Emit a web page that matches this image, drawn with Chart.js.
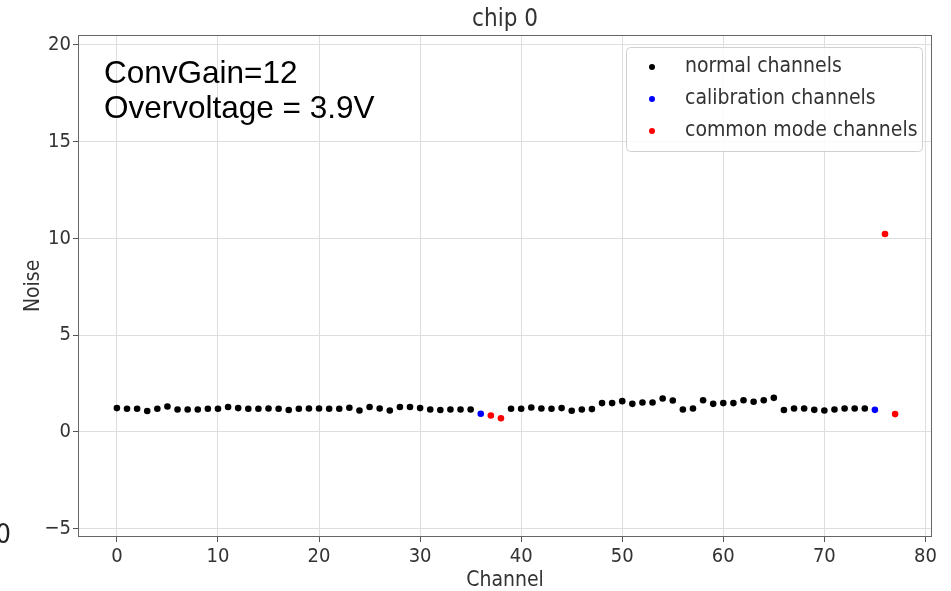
<!DOCTYPE html>
<html lang="en">
<head>
<meta charset="UTF-8">
<title>chip 0 - Noise per channel</title>
<script src="https://cdn.jsdelivr.net/npm/chart.js"></script>
<style>
  html, body { margin: 0; padding: 0; background: #fff; }
  #wrap { width: 951px; height: 591px; position: relative; }
</style>
</head>
<body>
<div id="wrap"><canvas id="noiseChart"></canvas></div>
<script>
  // noise per channel, channel = index (0..77)
  const noise = [
    1.23, 1.20, 1.20, 1.08, 1.20, 1.31, 1.16, 1.16, 1.16, 1.20,
    1.20, 1.29, 1.23, 1.20, 1.20, 1.21, 1.20, 1.13, 1.20, 1.21,
    1.21, 1.20, 1.20, 1.25, 1.11, 1.29, 1.21, 1.11, 1.29, 1.29,
    1.23, 1.16, 1.13, 1.16, 1.16, 1.16, 0.94, 0.85, 0.71, 1.20,
    1.20, 1.26, 1.21, 1.20, 1.23, 1.09, 1.16, 1.18, 1.49, 1.49,
    1.59, 1.45, 1.52, 1.52, 1.73, 1.62, 1.16, 1.21, 1.64, 1.45,
    1.49, 1.49, 1.64, 1.56, 1.64, 1.76, 1.13, 1.21, 1.21, 1.14,
    1.11, 1.16, 1.21, 1.21, 1.21, 1.14, 10.23, 0.92
  ];
  const calibChannels = [36, 75];
  const cmChannels = [37, 38, 76, 77];

  const seriesLabels = ['normal channels', 'calibration channels', 'common mode channels'];
  const seriesColors = ['#000000', '#0000ff', '#ff0000'];

  const annotationLines = ['ConvGain=12', 'Overvoltage = 3.9V'];

  const xTicks = [0, 10, 20, 30, 40, 50, 60, 70, 80];
  const yTicks = [-5, 0, 5, 10, 15, 20];

  // split channels into the three groups
  const normalPts = [], calibPts = [], cmPts = [];
  noise.forEach((v, ch) => {
    const p = { x: ch, y: v };
    if (calibChannels.includes(ch)) calibPts.push(p);
    else if (cmChannels.includes(ch)) cmPts.push(p);
    else normalPts.push(p);
  });

  const FONT = "'DejaVu Sans Condensed', 'DejaVu Sans', sans-serif";
  Chart.defaults.font.family = FONT;
  Chart.defaults.color = '#333';

  // matplotlib style minus sign
  const fmt = v => (v < 0 ? '\u2212' + Math.abs(v) : String(v));

  // frame, legend box, text box and the clipped "0" at the left edge
  const extras = {
    id: 'extras',
    afterDraw(chart) {
      const { ctx, chartArea: a } = chart;
      ctx.save();

      // axes frame
      ctx.strokeStyle = '#666';
      ctx.lineWidth = 1;
      ctx.strokeRect(Math.round(a.left) + 0.5, Math.round(a.top) + 0.5,
        Math.round(a.right - a.left) - 1, Math.round(a.bottom - a.top) - 1);

      // legend
      const lx = 626, ly = 47, lw = 296, lh = 104;
      ctx.beginPath();
      ctx.roundRect(lx + 0.5, ly + 0.5, lw, lh, 4);
      ctx.fillStyle = 'rgba(255,255,255,0.85)';
      ctx.fill();
      ctx.strokeStyle = '#d0d0d0';
      ctx.stroke();
      ctx.font = '21px ' + FONT;
      ctx.textBaseline = 'middle';
      ctx.textAlign = 'left';
      chart.data.datasets.forEach((ds, i) => {
        const y = 67 + i * 32;
        ctx.fillStyle = ds.backgroundColor;
        ctx.beginPath();
        ctx.arc(652, y, 3, 0, Math.PI * 2);
        ctx.fill();
        ctx.fillStyle = '#333';
        ctx.fillText(ds.label, 685, y);
      });

      // annotation
      ctx.fillStyle = '#000';
      ctx.font = "31.5px 'Liberation Sans', Arial, sans-serif";
      ctx.textBaseline = 'alphabetic';
      annotationLines.forEach((t, i) => ctx.fillText(t, 104, 83 + i * 35));

      // stray label cut off at the left edge
      ctx.font = '27px ' + FONT;
      ctx.fillStyle = '#222';
      ctx.textAlign = 'right';
      ctx.fillText('0', 11, 543);

      ctx.restore();
    }
  };

  const ctx = document.getElementById('noiseChart').getContext('2d');
  new Chart(ctx, {
    type: 'scatter',
    data: {
      datasets: [
        { label: seriesLabels[0], data: normalPts, backgroundColor: seriesColors[0] },
        { label: seriesLabels[1], data: calibPts, backgroundColor: seriesColors[1] },
        { label: seriesLabels[2], data: cmPts, backgroundColor: seriesColors[2] }
      ]
    },
    options: {
      responsive: true,
      maintainAspectRatio: false,
      animation: false,
      elements: { point: { radius: 3.3, borderWidth: 0, hoverRadius: 4 } },
      layout: { padding: { right: 19 } },
      plugins: {
        legend: { display: false },
        tooltip: { enabled: false },
        title: {
          display: true,
          text: 'chip 0',
          fullSize: false,
          color: '#333',
          font: { size: 24, weight: 'normal' },
          padding: { top: 5, bottom: 1 }
        }
      },
      scales: {
        x: {
          type: 'linear',
          min: -3.85,
          max: 80.65,
          afterFit: s => { s.height = 54; },
          afterBuildTicks: s => { s.ticks = xTicks.map(v => ({ value: v })); },
          ticks: { font: { size: 20 }, color: '#333', padding: 3, includeBounds: false, callback: fmt },
          grid: { color: '#dedede', tickColor: '#555', tickLength: 5 },
          border: { display: false },
          title: { display: true, text: 'Channel', color: '#333', font: { size: 21, lineHeight: 1.0 }, padding: { top: 0, bottom: 0 } }
        },
        y: {
          min: -5.43,
          max: 20.52,
          afterFit: s => { s.width = 78; },
          afterBuildTicks: s => { s.ticks = yTicks.map(v => ({ value: v })); },
          ticks: { font: { size: 20 }, color: '#333', padding: 2, includeBounds: false, callback: fmt },
          grid: { color: '#dedede', tickColor: '#555', tickLength: 5 },
          border: { display: false },
          title: { display: true, text: 'Noise', color: '#333', font: { size: 21, lineHeight: 1.0 }, padding: { top: 23, bottom: 0 } }
        }
      }
    },
    plugins: [extras]
  });
</script>
</body>
</html>
